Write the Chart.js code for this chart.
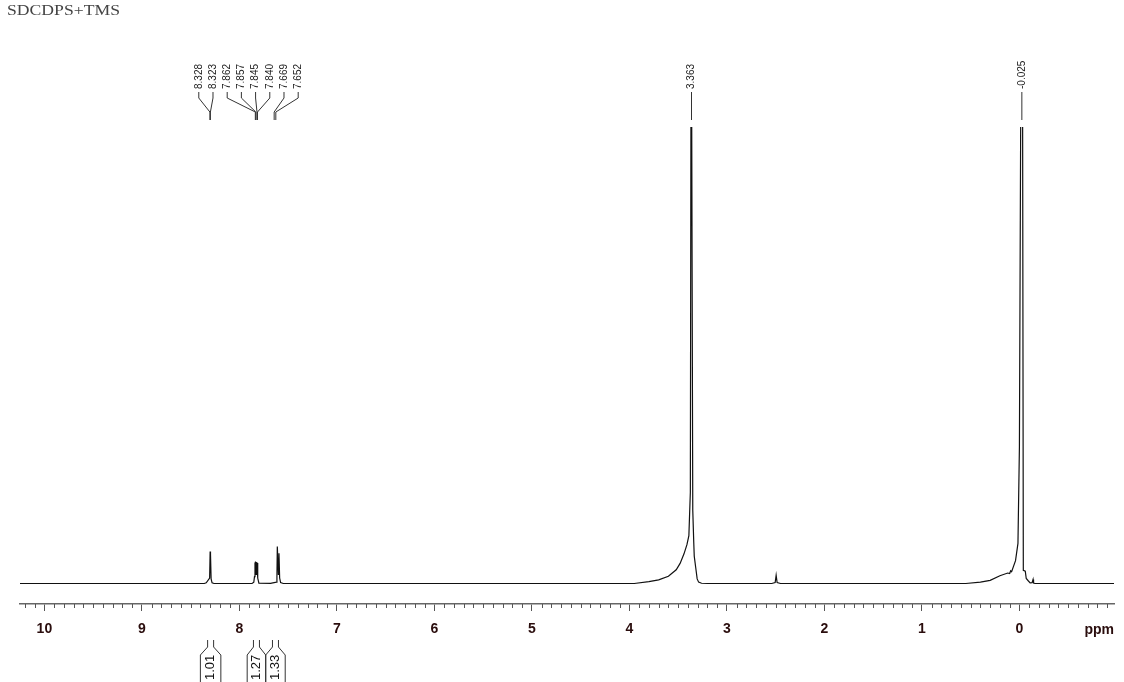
<!DOCTYPE html>
<html>
<head>
<meta charset="utf-8">
<script src="https://cdn.jsdelivr.net/npm/chart.js@4.4.0/dist/chart.umd.min.js"></script>
<style>
  html, body { margin: 0; padding: 0; background: #fff; }
  canvas { display: block; }
</style>
</head>
<body>
<canvas id="nmrChart" width="1124" height="682"></canvas>
<script>
const sampleName = "SDCDPS+TMS";

// spectrum trace (ppm, relative intensity; 100 = top of frame)
const shifts = [
  10.25, 8.36, 8.34, 8.305, 8.300, 8.2975, 8.295, 8.29, 8.28, 8.26,
  7.87, 7.852, 7.845, 7.840, 7.8375, 7.835, 7.829, 7.823, 7.8205, 7.818, 7.812, 7.80,
  7.68, 7.62, 7.615, 7.611, 7.60, 7.594, 7.587, 7.577, 7.55,
  3.95, 3.80, 3.70, 3.60, 3.52, 3.48, 3.44, 3.41, 3.39, 3.375, 3.366, 3.360,
  3.35, 3.34, 3.335, 3.32, 3.305, 3.29, 3.26, 3.20,
  2.54, 2.505, 2.495, 2.485, 2.45,
  0.55, 0.40, 0.30, 0.20, 0.12, 0.10, 0.09, 0.08, 0.04, 0.015, 0.0, -0.02, -0.03,
  -0.04, -0.06, -0.07, -0.09, -0.11, -0.13, -0.14, -0.145, -0.16, -0.97
];
const intensities = [
  0, 0, 0.15, 1.2, 7.0, 3.0, 6.4, 1.0, 0.15, 0,
  0, 0.3, 1.5, 4.6, 3.5, 4.8, 2.0, 4.7, 3.6, 4.5, 1.2, 0.1,
  0.05, 0.3, 1.5, 8.1, 2.0, 6.6, 1.2, 0.2, 0,
  0, 0.4, 0.8, 1.6, 3.0, 4.4, 6.5, 8.5, 10.5, 20, 140, 140,
  16, 9, 6, 3.5, 1.0, 0.3, 0.05, 0,
  0, 0.2, 1.8, 0.2, 0,
  0, 0.3, 0.7, 1.7, 2.3, 2.2, 2.8, 2.6, 5.0, 8.8, 30, 140, 140,
  2.9, 2.7, 1.1, 0.6, 0.15, 0.2, 0.9, 0.1, 0, 0
];

const majorTicks = [10, 9, 8, 7, 6, 5, 4, 3, 2, 1, 0];

// picked peaks: fanned multiplet labels and single labels
const multipletShifts = [8.328, 8.323, 7.862, 7.857, 7.845, 7.840, 7.669, 7.652];
const singletShifts = [3.363, -0.025];

// integrals under the axis
const integralValues = ["1.01", "1.27", "1.33"];
const integralFrom = [8.40, 7.92, 7.73];
const integralTo = [8.19, 7.73, 7.53];

const nmrDecor = {
  id: "nmrDecor",
  afterDraw(chart) {
    const ctx = chart.ctx;
    const x = chart.scales.x;
    const area = chart.chartArea;
    ctx.save();

    // minor ticks every 0.1 ppm
    ctx.strokeStyle = "#555";
    ctx.lineWidth = 1;
    for (let i = -9; i <= 102; i++) {
      if (i % 10 === 0) continue;
      const px = Math.round(x.getPixelForValue(i / 10)) + 0.5;
      if (px < area.left || px > area.right) continue;
      ctx.beginPath();
      ctx.moveTo(px, area.bottom);
      ctx.lineTo(px, area.bottom + 4);
      ctx.stroke();
    }

    // "ppm" unit at the right end of the axis
    ctx.fillStyle = "#2a0d0d";
    ctx.font = "bold 14px Arial, 'Liberation Sans', sans-serif";
    ctx.textAlign = "right";
    ctx.textBaseline = "middle";
    ctx.fillText("ppm", area.right, 630);

    // sample name, stretched like the plotter font
    ctx.save();
    ctx.fillStyle = "#444";
    ctx.font = "14px 'Liberation Serif', 'DejaVu Serif', serif";
    ctx.textAlign = "left";
    ctx.textBaseline = "alphabetic";
    const w = ctx.measureText(sampleName).width;
    ctx.translate(7, 15);
    ctx.scale(113 / w, 1);
    ctx.fillText(sampleName, 0, 0);
    ctx.restore();

    // peak labels
    const labelFont = "10px 'Liberation Sans Narrow', Arial, sans-serif";
    const drawLabel = (text, lx) => {
      ctx.save();
      ctx.translate(lx, 89);
      ctx.rotate(-Math.PI / 2);
      ctx.font = labelFont;
      ctx.fillStyle = "#222";
      ctx.textAlign = "left";
      ctx.textBaseline = "middle";
      ctx.fillText(text, 0, 0);
      ctx.restore();
    };
    ctx.strokeStyle = "#333";
    ctx.lineWidth = 1;

    const peakPx = multipletShifts.map(s => x.getPixelForValue(s));
    const meanPx = peakPx.reduce((a, b) => a + b, 0) / peakPx.length;
    const gap = 14.2;
    multipletShifts.forEach((s, i) => {
      const lx = meanPx + 1.5 + (i - (multipletShifts.length - 1) / 2) * gap;
      drawLabel(s.toFixed(3), lx);
      ctx.beginPath();
      ctx.moveTo(lx, 92);
      ctx.lineTo(lx, 98);
      ctx.lineTo(peakPx[i] + 2.5, 112);
      ctx.lineTo(peakPx[i] + 2.5, 120);
      ctx.stroke();
    });

    singletShifts.forEach(s => {
      const px = x.getPixelForValue(s);
      drawLabel(s.toFixed(3), px);
      ctx.beginPath();
      ctx.moveTo(px, 92);
      ctx.lineTo(px, 120);
      ctx.stroke();
    });

    // integral brackets
    integralValues.forEach((v, i) => {
      const l = x.getPixelForValue(integralFrom[i]);
      const r = x.getPixelForValue(integralTo[i]);
      const cx = (l + r) / 2;
      ctx.strokeStyle = "#333";
      ctx.beginPath();
      ctx.moveTo(l, 682);
      ctx.lineTo(l, 655);
      ctx.lineTo(cx - 3, 647);
      ctx.lineTo(cx - 3, 640);
      ctx.moveTo(r, 682);
      ctx.lineTo(r, 655);
      ctx.lineTo(cx + 3, 647);
      ctx.lineTo(cx + 3, 640);
      ctx.stroke();

      ctx.save();
      ctx.translate(cx, 680);
      ctx.rotate(-Math.PI / 2);
      ctx.font = "13px Arial, 'Liberation Sans', sans-serif";
      ctx.fillStyle = "#111";
      ctx.textAlign = "left";
      ctx.textBaseline = "middle";
      ctx.fillText(v, 0, 0);
      ctx.restore();
    });

    ctx.restore();
  }
};

new Chart(document.getElementById("nmrChart"), {
  type: "line",
  data: {
    datasets: [{
      data: shifts.map((s, i) => ({ x: s, y: intensities[i] })),
      borderColor: "#111",
      borderWidth: 1.2,
      pointRadius: 0,
      tension: 0,
      fill: false
    }]
  },
  options: {
    responsive: false,
    animation: false,
    layout: { padding: { left: 20, right: 10, top: 127, bottom: 0 } },
    plugins: {
      legend: { display: false },
      tooltip: { enabled: false }
    },
    scales: {
      x: {
        type: "linear",
        reverse: true,
        min: -0.97,
        max: 10.25,
        afterBuildTicks: s => { s.ticks = majorTicks.map(v => ({ value: v })); },
        afterFit: s => { s.height = 78; },
        grid: { drawOnChartArea: false, drawTicks: true, tickLength: 7, color: "#555", lineWidth: 1 },
        border: { display: true, color: "#666", width: 1.5 },
        ticks: {
          font: { family: "Arial, 'Liberation Sans', sans-serif", size: 14, weight: "bold" },
          color: "#2a0d0d",
          padding: 10,
          maxRotation: 0,
          autoSkip: false
        }
      },
      y: { display: false, min: -4.49, max: 100 }
    }
  },
  plugins: [nmrDecor]
});
</script>
</body>
</html>
